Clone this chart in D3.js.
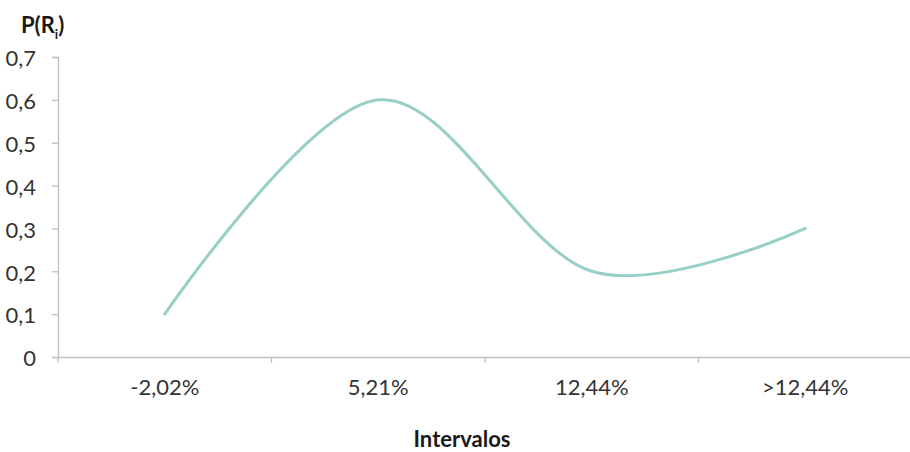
<!DOCTYPE html>
<html><head><meta charset="utf-8">
<script src="https://cdn.jsdelivr.net/npm/d3@7"></script>
<style>body{margin:0;background:#fff}svg{display:block}text{font-family:Lato,"Open Sans",sans-serif}</style>
</head><body>
<script>
const categories = ["-2,02%", "5,21%", "12,44%", ">12,44%"];
const values = [0.1, 0.6, 0.2, 0.3];
const yTicks = [0, 0.1, 0.2, 0.3, 0.4, 0.5, 0.6, 0.7];

const W = 910, H = 452;
const svg = d3.select("body").append("svg").attr("width", W).attr("height", H);
const x = d3.scaleBand().domain(categories).range([58, 912]);
const y = d3.scaleLinear().domain([0, 0.7]).range([357, 57]);
const axisColor = "#bfbfbf", textColor = "#333333";

// y axis
const ya = svg.append("g").attr("transform", "translate(58,0)")
  .call(d3.axisLeft(y).tickValues(yTicks).tickSize(6).tickPadding(16)
    .tickFormat(d => d3.format(".1f")(d).replace(".", ",").replace(/^0,0$/, "0")));
ya.select(".domain").attr("stroke", axisColor).attr("stroke-width", 1.3);
ya.selectAll(".tick line").attr("stroke", axisColor).attr("stroke-width", 1.3);
ya.selectAll(".tick text").attr("font-size", 22).attr("fill", textColor).attr("font-family", "Lato,sans-serif").attr("font-weight", 400).attr("dy", "0.4em");

// x axis
const xa = svg.append("g").attr("transform", "translate(0,357)")
  .call(d3.axisBottom(x).tickSize(0).tickPadding(22));
xa.select(".domain").attr("stroke", axisColor).attr("stroke-width", 1.3);
xa.selectAll(".tick text").attr("font-size", 22).attr("fill", textColor).attr("font-family", "Lato,sans-serif").attr("font-weight", 400);
// tick marks at band boundaries
xa.selectAll(".bnd").data(d3.range(categories.length)).enter().append("line")
  .attr("x1", i => x(categories[i])).attr("x2", i => x(categories[i]))
  .attr("y1", 0).attr("y2", 6).attr("stroke", axisColor).attr("stroke-width", 1.3);

// line
const line = d3.line()
  .x((d, i) => x(categories[i]) + x.bandwidth() / 2)
  .y(d => y(d))
  .curve(d3.curveCardinal.tension(0));
svg.append("path").datum(values).attr("d", line)
  .attr("fill", "none").attr("stroke", "#96cfc6").attr("stroke-width", 3).attr("stroke-linecap", "round");

// titles
const t = svg.append("text").attr("x", 21).attr("y", 33).attr("font-size", 22).attr("font-weight", 700).attr("fill", "#1a1a1a");
t.append("tspan").text("P(R");
t.append("tspan").attr("font-size", 13).attr("dy", 6).text("i");
t.append("tspan").attr("dy", -6).text(")");

svg.append("text").attr("x", 462).attr("y", 447).attr("text-anchor", "middle")
  .attr("font-size", 22).attr("font-weight", 700).attr("fill", "#1a1a1a").text("Intervalos");
</script>
</body></html>
